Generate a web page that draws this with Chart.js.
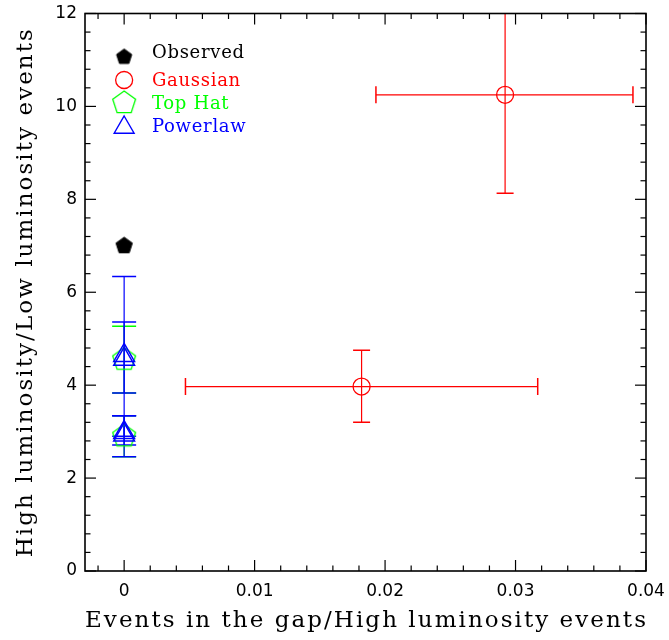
<!DOCTYPE html>
<html>
<head>
<meta charset="utf-8">
<script src="https://cdn.jsdelivr.net/npm/chart.js@4.4.1/dist/chart.umd.min.js"></script>
<style>
  html, body { margin: 0; padding: 0; background: #fff; }
  #wrap { width: 669px; height: 640px; position: relative; }
</style>
</head>
<body>
<div id="wrap"><canvas id="c"></canvas></div>
<script>
// Axis ticks
const xTicks = [0, 0.01, 0.02, 0.03, 0.04];
const xTickLabels = ['0', '0.01', '0.02', '0.03', '0.04'];
const yTicks = [0, 2, 4, 6, 8, 10, 12];
const yTickLabels = ['0', '2', '4', '6', '8', '10', '12'];

// Observed ratio
const observedX = [0];
const observedY = [7.0];

// Gaussian model (with x and y uncertainty ranges)
const gaussianX = [0.0182, 0.0292];
const gaussianY = [3.97, 10.25];
const gaussianXLow = [0.0047, 0.0193];
const gaussianXHigh = [0.0317, 0.0390];
const gaussianYLow = [3.20, 8.13];
const gaussianYHigh = [4.75, 12.37];

// Top hat model
const topHatX = [0, 0];
const topHatY = [4.55, 2.90];
const topHatYLow = [3.83, 2.46];
const topHatYHigh = [5.27, 3.34];

// Power-law model
const powerlawX = [0, 0, 0, 0];
const powerlawY = [4.64, 4.56, 2.98, 2.93];
const powerlawYLow = [2.90, 3.83, 2.46, 2.71];
const powerlawYHigh = [6.34, 5.36, 3.34, 3.34];

const RED = '#ff0000', GREEN = '#00ff00', BLUE = '#0000ff', BLACK = '#000000';

function pts(xs, ys) { return xs.map((v, i) => ({ x: v, y: ys[i] })); }

// Regular pentagon marker (point up), centred on its circumcentre
function pentagon(R, stroke, fill, lw) {
  const s = Math.ceil(2 * R + lw + 4);
  const cv = document.createElement('canvas');
  cv.width = s; cv.height = s;
  const g = cv.getContext('2d');
  g.beginPath();
  for (let k = 0; k < 5; k++) {
    const a = -Math.PI / 2 + k * 2 * Math.PI / 5;
    const px = s / 2 + R * Math.cos(a), py = s / 2 + R * Math.sin(a);
    k ? g.lineTo(px, py) : g.moveTo(px, py);
  }
  g.closePath();
  if (fill) { g.fillStyle = fill; g.fill(); }
  g.lineWidth = lw; g.strokeStyle = stroke; g.stroke();
  return cv;
}

const blackPent = pentagon(8.6, BLACK, BLACK, 1);
const greenPent = pentagon(12, GREEN, null, 1.3);
const greenPentLegend = pentagon(12, GREEN, null, 1.3);
const blackPentLegend = pentagon(8, BLACK, BLACK, 1);

const datasets = [
  {
    label: 'Observed', data: pts(observedX, observedY),
    pointStyle: blackPent, borderColor: BLACK, backgroundColor: BLACK,
    legendStyle: blackPentLegend, order: 3
  },
  {
    label: 'Gaussian', data: pts(gaussianX, gaussianY),
    pointStyle: 'circle', pointRadius: 8.5, pointBorderWidth: 1.3,
    borderColor: RED, backgroundColor: 'rgba(0,0,0,0)',
    errors: { xLow: gaussianXLow, xHigh: gaussianXHigh, yLow: gaussianYLow, yHigh: gaussianYHigh, cap: 8.5 },
    order: 2
  },
  {
    label: 'Top Hat', data: pts(topHatX, topHatY),
    pointStyle: greenPent, borderColor: GREEN, backgroundColor: GREEN,
    errors: { yLow: topHatYLow, yHigh: topHatYHigh, cap: 12 },
    legendStyle: greenPentLegend, order: 1
  },
  {
    label: 'Powerlaw', data: pts(powerlawX, powerlawY),
    pointStyle: 'triangle', pointRadius: 12, pointBorderWidth: 1.5,
    borderColor: BLUE, backgroundColor: 'rgba(0,0,0,0)',
    errors: { yLow: powerlawYLow, yHigh: powerlawYHigh, cap: 12 },
    order: 0
  }
];

function seg(ctx, x1, y1, x2, y2) {
  ctx.beginPath(); ctx.moveTo(x1, y1); ctx.lineTo(x2, y2); ctx.stroke();
}

// Error bars with end caps, clipped to the plotting box
const errorBars = {
  id: 'errorBars',
  beforeDatasetsDraw(chart) {
    const { ctx, chartArea: a, scales: { x, y } } = chart;
    ctx.save();
    ctx.beginPath();
    ctx.rect(a.left, a.top, a.right - a.left, a.bottom - a.top);
    ctx.clip();
    chart.data.datasets.forEach(ds => {
      const e = ds.errors;
      if (!e) return;
      ctx.strokeStyle = ds.borderColor;
      ds.data.forEach((p, i) => {
        const px = x.getPixelForValue(p.x), py = y.getPixelForValue(p.y);
        ctx.lineWidth = 1.2;
        if (e.yLow) {
          const y1 = y.getPixelForValue(e.yLow[i]), y2 = y.getPixelForValue(e.yHigh[i]);
          seg(ctx, px, y1, px, y2);
          ctx.lineWidth = 1.5;
          seg(ctx, px - e.cap, y1, px + e.cap, y1);
          seg(ctx, px - e.cap, y2, px + e.cap, y2);
        }
        ctx.lineWidth = 1.2;
        if (e.xLow) {
          const x1 = x.getPixelForValue(e.xLow[i]), x2 = x.getPixelForValue(e.xHigh[i]);
          seg(ctx, x1, py, x2, py);
          ctx.lineWidth = 1.5;
          seg(ctx, x1, py - e.cap, x1, py + e.cap);
          seg(ctx, x2, py - e.cap, x2, py + e.cap);
        }
      });
    });
    ctx.restore();
  }
};

// Box frame with inward major/minor ticks on all four sides
const frame = {
  id: 'frame',
  afterDraw(chart) {
    const { ctx, chartArea: a, scales: { x, y } } = chart;
    ctx.save();
    ctx.strokeStyle = BLACK;
    ctx.lineWidth = 1.6;
    ctx.strokeRect(a.left, a.top, a.right - a.left, a.bottom - a.top);
    ctx.lineWidth = 1.2;
    const MAJ = 11, MIN = 5.5;
    const xStep = 0.002;
    for (let k = Math.ceil(x.min / xStep - 1e-9); k <= Math.floor(x.max / xStep + 1e-9); k++) {
      const px = x.getPixelForValue(k * xStep);
      const L = (k % 5 === 0) ? MAJ : MIN;
      seg(ctx, px, a.bottom, px, a.bottom - L);
      seg(ctx, px, a.top, px, a.top + L);
    }
    const yStep = 0.4;
    for (let k = Math.ceil(y.min / yStep - 1e-9); k <= Math.floor(y.max / yStep + 1e-9); k++) {
      const py = y.getPixelForValue(k * yStep);
      const L = (k % 5 === 0) ? MAJ : MIN;
      seg(ctx, a.left, py, a.left + L, py);
      seg(ctx, a.right, py, a.right - L, py);
    }

    // Axis titles
    ctx.fillStyle = BLACK;
    ctx.font = '23px "DejaVu Serif"';
    ctx.letterSpacing = '2.05px';
    ctx.textAlign = 'center';
    ctx.textBaseline = 'middle';
    ctx.fillText('Events in the gap/High luminosity events', (a.left + a.right) / 2 + 1, 621);
    ctx.save();
    ctx.translate(26, (a.top + a.bottom) / 2);
    ctx.rotate(-Math.PI / 2);
    ctx.fillText('High luminosity/Low luminosity events', 0, 0);
    ctx.restore();

    // Legend inside the plotting box
    ctx.font = '18px "DejaVu Serif"';
    ctx.letterSpacing = '0.7px';
    ctx.textAlign = 'left';
    const mx = x.getPixelForValue(0);
    const rows = [57, 80, 103, 125.5];
    const textRows = [53, 81, 104, 127];
    chart.data.datasets.forEach((ds, i) => {
      const ry = rows[i];
      const st = ds.legendStyle || ds.pointStyle;
      ctx.strokeStyle = ds.borderColor;
      if (typeof st === 'object') {
        ctx.drawImage(st, mx - st.width / 2, ry - st.height / 2);
      } else if (st === 'circle') {
        ctx.lineWidth = 1.3;
        ctx.beginPath(); ctx.arc(mx, ry, 8.5, 0, Math.PI * 2); ctx.stroke();
      } else if (st === 'triangle') {
        const r = 11.5;
        ctx.lineWidth = 1.4;
        ctx.beginPath();
        for (let k = 0; k < 3; k++) {
          const ang = k * 2 * Math.PI / 3;
          const px = mx + Math.sin(ang) * r, py = ry + 2 - Math.cos(ang) * r;
          k ? ctx.lineTo(px, py) : ctx.moveTo(px, py);
        }
        ctx.closePath(); ctx.stroke();
      }
      ctx.fillStyle = ds.borderColor;
      ctx.fillText(ds.label, 152, textRows[i]);
    });
    ctx.restore();
  }
};

const tickFont = { family: '"DejaVu Sans"', size: 17 };

new Chart(document.getElementById('c'), {
  type: 'scatter',
  data: { datasets },
  options: {
    responsive: true,
    maintainAspectRatio: false,
    animation: false,
    events: [],
    layout: { padding: { left: 0, top: 11, right: 23, bottom: 0 } },
    plugins: { legend: { display: false }, tooltip: { enabled: false } },
    scales: {
      x: {
        type: 'linear', min: -0.003, max: 0.04,
        grid: { display: false, drawTicks: false },
        border: { display: false },
        afterBuildTicks: s => { s.ticks = xTicks.map(v => ({ value: v })); },
        afterFit: s => { s.height = 69; s.paddingLeft = 0; s.paddingRight = 0; },
        ticks: {
          color: BLACK, font: tickFont, padding: 10, maxRotation: 0, autoSkip: false,
          callback: (v) => { const i = xTicks.findIndex(t => Math.abs(t - v) < 1e-9); return i >= 0 ? xTickLabels[i] : ''; }
        }
      },
      y: {
        type: 'linear', min: 0, max: 12,
        grid: { display: false, drawTicks: false },
        border: { display: false },
        afterBuildTicks: s => { s.ticks = yTicks.map(v => ({ value: v })); },
        afterFit: s => { s.width = 85; s.paddingTop = 0; s.paddingBottom = 0; },
        ticks: {
          color: BLACK, font: tickFont, padding: 8, autoSkip: false,
          callback: (v) => { const i = yTicks.findIndex(t => Math.abs(t - v) < 1e-9); return i >= 0 ? yTickLabels[i] : ''; }
        }
      }
    }
  },
  plugins: [errorBars, frame]
});
</script>
</body>
</html>
